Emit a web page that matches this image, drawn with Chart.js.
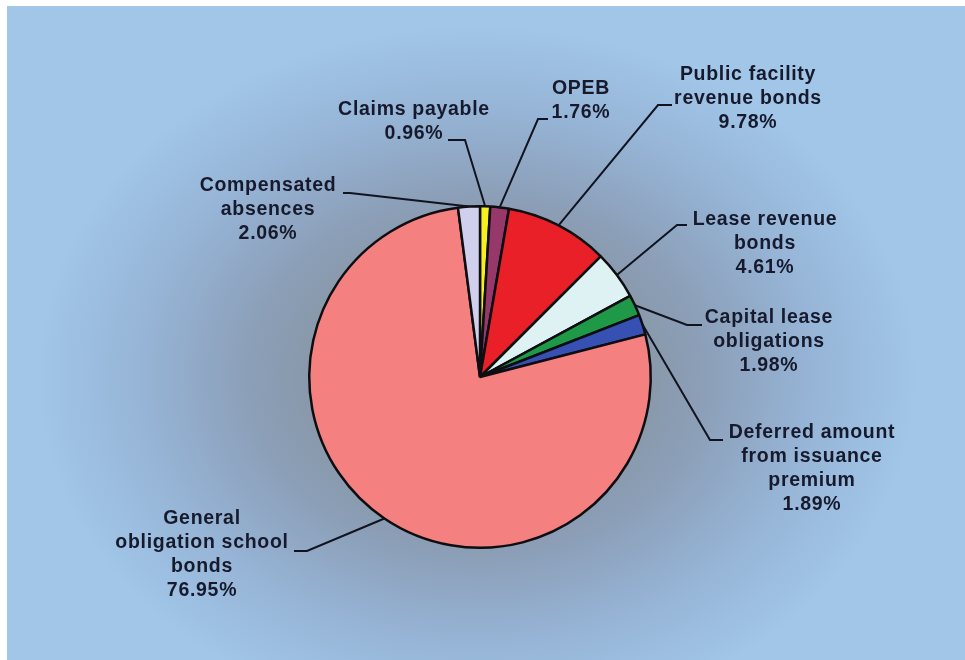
<!DOCTYPE html>
<html>
<head>
<meta charset="utf-8">
<script src="https://cdn.jsdelivr.net/npm/chart.js@4/dist/chart.umd.min.js"></script>
<style>
  html, body { margin: 0; padding: 0; background: #fff; }
  .bg {
    position: absolute; left: 7px; top: 6px; width: 958px; height: 654px;
    background: radial-gradient(ellipse 440px 350px at 470px 370px,
      #7e8898 0%, #86949f 28%, #8c9fb8 52%, #96b4d6 76%, #a1c6e8 100%);
  }
  .wrap { position: absolute; left: 0; top: 0; width: 965px; height: 660px; }
</style>
</head>
<body>
<div class="bg"></div>
<div class="wrap"><canvas id="pieChart"></canvas></div>
<script>
//////// Data ////////
const categories = [
  "Claims payable",
  "OPEB",
  "Public facility revenue bonds",
  "Lease revenue bonds",
  "Capital lease obligations",
  "Deferred amount from issuance premium",
  "General obligation school bonds",
  "Compensated absences",
];
const shares = [0.96, 1.76, 9.78, 4.61, 1.98, 1.89, 76.95, 2.06];
const labelLines = [
  ["Claims payable"],
  ["OPEB"],
  ["Public facility", "revenue bonds"],
  ["Lease revenue", "bonds"],
  ["Capital lease", "obligations"],
  ["Deferred amount", "from issuance", "premium"],
  ["General", "obligation school", "bonds"],
  ["Compensated", "absences"],
];
const sliceColors = [
  "#f6f01e", "#96386a", "#ea2028", "#def2f4",
  "#1f9848", "#3650b4", "#f48080", "#d0d0ec",
];

//////// Label layout (text center x, first line y, leader stub) ////////
const labelLayout = [
  { x: 414, y: 110, stub: [[448, 140], [465, 140]] },
  { x: 581, y: 89, stub: [[548, 119], [538, 119]] },
  { x: 748, y: 75, stub: [[672, 105], [658, 105]] },
  { x: 765, y: 220, stub: [[687, 225], [677, 225]] },
  { x: 769, y: 318, stub: [[702, 325], [687, 325]] },
  { x: 812, y: 433, stub: [[723, 440], [710, 440]] },
  { x: 202, y: 519, stub: [[294, 551], [307, 551]] },
  { x: 268, y: 186, stub: [[343, 193], [350, 193]] },
];

// leader lines + texts
const calloutPlugin = {
  id: "callouts",
  afterDatasetsDraw(chart) {
    const ctx = chart.ctx;
    const arcs = chart.getDatasetMeta(0).data;
    ctx.save();
    ctx.strokeStyle = "#111420";
    ctx.lineWidth = 2;
    arcs.forEach((arc, i) => {
      const p = arc.getProps(["x", "y", "startAngle", "endAngle", "outerRadius"], true);
      const mid = (p.startAngle + p.endAngle) / 2;
      const ax = p.x + Math.cos(mid) * p.outerRadius;
      const ay = p.y + Math.sin(mid) * p.outerRadius;
      const stub = labelLayout[i].stub;
      ctx.beginPath();
      ctx.moveTo(stub[0][0], stub[0][1]);
      ctx.lineTo(stub[1][0], stub[1][1]);
      ctx.lineTo(ax, ay);
      ctx.stroke();
    });

    ctx.fillStyle = "#161a2c";
    ctx.font = "bold 19.5px 'Liberation Sans', Arial, sans-serif";
    ctx.letterSpacing = "0.7px";
    ctx.textAlign = "center";
    ctx.textBaseline = "middle";
    shares.forEach((val, i) => {
      const lines = labelLines[i].concat([val.toFixed(2) + "%"]);
      const lay = labelLayout[i];
      lines.forEach((txt, k) => ctx.fillText(txt, lay.x, lay.y + k * 24));
    });
    ctx.restore();
  },
};

const ctx = document.getElementById("pieChart");
const pieChart = new Chart(ctx, {
  type: "pie",
  data: {
    labels: categories,
    datasets: [
      {
        data: shares,
        backgroundColor: sliceColors,
        borderColor: "#0e0e12",
        borderWidth: 2.5,
      },
    ],
  },
  options: {
    responsive: true,
    maintainAspectRatio: false,
    animation: false,
    layout: {
      padding: { left: 308, right: 313, top: 205, bottom: 111 },
    },
    plugins: {
      legend: { display: false },
      tooltip: { enabled: false },
    },
  },
  plugins: [calloutPlugin],
});
</script>
</body>
</html>
